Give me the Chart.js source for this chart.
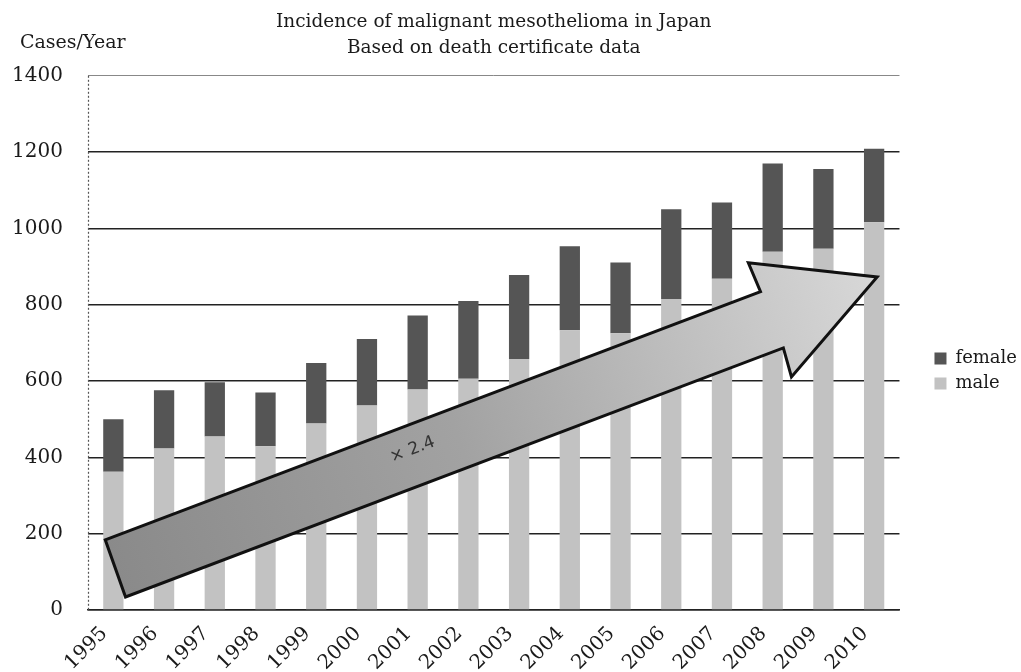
<!DOCTYPE html>
<html><head><meta charset="utf-8">
<script src="https://cdn.jsdelivr.net/npm/chart.js@4/dist/chart.umd.min.js"></script>
<style>html,body{margin:0;padding:0;background:#fff}</style>
</head><body>
<canvas id="c" width="1021" height="672" style="width:1021px;height:672px;display:block"></canvas>
<script>
// ---- data ----
const years = ["1995","1996","1997","1998","1999","2000","2001","2002","2003","2004","2005","2006","2007","2008","2009","2010"];
const maleCases   = [362, 423, 455, 429, 489, 536, 578, 606, 658, 733, 725, 815, 868, 939, 947, 1016];
const femaleCases = [138, 153, 142, 141, 158, 174, 194, 204, 220, 220, 186, 235, 200, 231, 209, 193];
const yTickValues = [0, 200, 400, 600, 800, 1000, 1200, 1400];
const titleLines  = ["Incidence of malignant mesothelioma in Japan", "Based on death certificate data"];
const yUnitLabel  = "Cases/Year";
const arrowLabel  = "\u00d7 2.4";
// arrow annotation outline in data space [category index, cases]
const arrowOutline = [[-0.16,184],[12.76,834],[12.52,910],[15.06,873],[13.37,611],[13.21,687],[0.24,34]];
const arrowTextAt  = [5.9, 420];

const SERIF = '"DejaVu Serif", serif';

const annot = {
  id: 'annot',
  afterLayout(chart) {
    const lg = chart.legend;
    if (lg) { lg.left += 28; lg.right += 28; lg.top += 35; lg.bottom += 35; }
  },
  beforeDatasetsDraw(chart) {
    const ctx = chart.ctx, a = chart.chartArea;
    ctx.save();
    ctx.strokeStyle = '#555';
    ctx.lineWidth = 1.2;
    ctx.setLineDash([2, 2]);
    ctx.beginPath();
    ctx.moveTo(a.left + 0.5, a.top);
    ctx.lineTo(a.left + 0.5, a.bottom);
    ctx.stroke();
    ctx.restore();
  },
  afterDatasetsDraw(chart) {
    const ctx = chart.ctx, xs = chart.scales.x, ys = chart.scales.y;
    const P = p => [xs.getPixelForValue(p[0]), ys.getPixelForValue(p[1])];
    const pts = arrowOutline.map(P);
    ctx.save();
    const g = ctx.createLinearGradient(pts[0][0], pts[0][1], pts[3][0], pts[3][1]);
    g.addColorStop(0, '#8a8a8a');
    g.addColorStop(0.45, '#a2a2a2');
    g.addColorStop(1, '#d8d8d8');
    ctx.beginPath();
    pts.forEach((p, i) => i ? ctx.lineTo(p[0], p[1]) : ctx.moveTo(p[0], p[1]));
    ctx.closePath();
    ctx.fillStyle = g;
    ctx.fill();
    ctx.lineWidth = 3;
    ctx.lineJoin = 'miter';
    ctx.strokeStyle = '#111';
    ctx.stroke();
    const a = Math.atan2(pts[1][1] - pts[0][1], pts[1][0] - pts[0][0]);
    const t = P(arrowTextAt);
    ctx.translate(t[0], t[1]);
    ctx.rotate(a);
    ctx.fillStyle = '#333';
    ctx.font = '17px "DejaVu Sans", sans-serif';
    ctx.textAlign = 'center';
    ctx.textBaseline = 'middle';
    ctx.fillText(arrowLabel, 0, 0);
    ctx.restore();
    ctx.save();
    ctx.font = '19px ' + SERIF;
    ctx.fillStyle = '#1a1a1a';
    ctx.textAlign = 'left';
    ctx.textBaseline = 'middle';
    ctx.fillText(yUnitLabel, 20, 43);
    ctx.restore();
  }
};

new Chart(document.getElementById('c'), {
  type: 'bar',
  data: {
    labels: years,
    datasets: [
      { label: 'male', data: maleCases, backgroundColor: '#c2c2c2', borderWidth: 0 },
      { label: 'female', data: femaleCases, backgroundColor: '#555555', borderWidth: 0 }
    ]
  },
  options: {
    responsive: false,
    animation: false,
    devicePixelRatio: 1,
    layout: { padding: { left: 0, right: 22, top: 0, bottom: 0 } },
    datasets: { bar: { categoryPercentage: 1, barPercentage: 0.4 } },
    scales: {
      x: {
        stacked: true,
        grid: { display: false, drawTicks: false },
        border: { display: true, color: '#222', width: 1.5 },
        ticks: { minRotation: 45, maxRotation: 45, labelOffset: -9, padding: 12, color: '#1a1a1a', font: { family: SERIF, size: 20 } },
        afterFit(s) { s.height = 62; }
      },
      y: {
        stacked: true,
        min: 0, max: 1400,
        afterBuildTicks(s) { s.ticks = yTickValues.map(v => ({ value: v })); },
        ticks: { padding: 25, color: '#1a1a1a', font: { family: SERIF, size: 20 }, callback: v => String(v) },
        grid: {
          drawTicks: false,
          color: c => c.tick && c.tick.value === 1400 ? '#888' : '#222',
          lineWidth: c => c.tick && c.tick.value === 1400 ? 1 : 1.4
        },
        border: { display: false },
        afterFit(s) { s.width = 88; }
      }
    },
    plugins: {
      title: {
        display: true, fullSize: false, text: titleLines, color: '#1a1a1a',
        font: { family: SERIF, size: 18.5, weight: 'normal', lineHeight: 1.4 },
        padding: { top: 9, bottom: 15 }
      },
      legend: {
        position: 'right', reverse: true,
        labels: { boxWidth: 12, boxHeight: 12, padding: 7, color: '#1a1a1a', font: { family: SERIF, size: 18 } }
      },
      tooltip: { enabled: false }
    }
  },
  plugins: [annot]
});
</script>
</body></html>
